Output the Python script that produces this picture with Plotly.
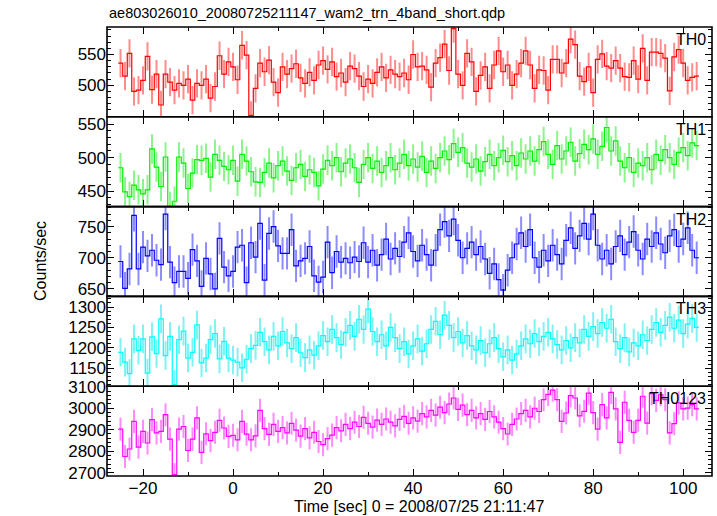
import plotly.graph_objects as go
from plotly.subplots import make_subplots

# ---- data (1-s bins, centre times in sec relative to 2008/07/25 21:11:47) ----
time_sec = list(range(-25, 104))

th0 = [536, 515, 552, 490, 492, 508, 547, 493, 518, 468, 518, 505, 492, 503, 500, 510,
       476, 503, 500, 510, 479, 498, 548, 518, 538, 530, 509, 565, 549, 451, 495, 536,
       522, 541, 505, 488, 530, 518, 527, 535, 512, 503, 521, 508, 533, 540, 526, 538,
       514, 520, 505, 531, 527, 515, 498, 510, 503, 521, 530, 512, 525, 518,
       514, 520, 509, 550, 530, 531, 525, 497, 536, 545, 567, 524, 592, 518, 500, 552,
       538, 490, 516, 530, 495, 533, 556, 522, 533, 500, 518, 536, 556, 533, 495, 525,
       524, 492, 542, 542, 520, 536, 575, 566, 515, 506, 530, 488, 542, 551, 531, 528,
       540, 528, 514, 513, 540, 510, 560, 508, 554, 554, 552, 544, 491, 546, 558, 536,
       508, 513, 515]

th1 = [485, 449, 442, 459, 452, 446, 452, 513, 486, 457, 501, 427, 435, 501, 492, 454,
       477, 497, 496, 499, 471, 505, 496, 487, 482, 496, 465, 505, 495, 479, 464, 463,
       478, 492, 470, 488, 495, 480, 466, 485, 490, 472, 482, 478, 458, 483, 496, 488,
       500, 479, 492, 498, 485, 463, 490, 500, 484, 495, 478, 488, 500, 482, 492, 505,
       488, 498, 486, 502, 478, 495, 484, 500, 510, 497, 521, 508, 515, 492, 486, 498,
       480, 494, 505, 488, 500, 511, 494, 503, 488, 507, 498, 510, 495, 512, 524, 505,
       490, 518, 498, 510, 523, 495, 506, 520, 512, 528, 505, 517, 545, 510, 525, 495,
       485, 500, 478, 492, 488, 500, 482, 505, 496, 512, 500, 490, 508, 515, 503, 522,
       518]

th2 = [694, 651, 682, 768, 682, 717, 703, 712, 696, 689, 770, 693, 660, 678, 678, 667,
       713, 695, 654, 699, 674, 650, 731, 685, 671, 678, 717, 720, 660, 724, 701, 755,
       664, 739, 750, 719, 707, 707, 745, 687, 695, 699, 718, 671, 661, 669, 725, 676,
       710, 693, 699, 692, 701, 694, 724, 693,
       712, 688, 705, 730, 698, 715, 702, 725, 740, 710, 695, 720, 705, 688, 712, 745,
       758, 735, 762, 728, 700, 715, 725, 705, 718, 698, 675, 690, 665, 648, 680, 700,
       722, 740, 718, 745, 700, 685, 712, 695, 720, 705, 690, 728, 748, 715, 735, 755,
       730, 770, 720, 698, 712, 690, 718, 735, 705, 725, 742, 712, 698, 730, 718, 740,
       722, 708, 735, 745, 718, 730, 748, 712, 700]

th3 = [1189, 1165, 1137, 1222, 1194, 1222, 1138, 1227, 1186, 1271, 1181, 1228, 1110, 1220,
       1241, 1175, 1189, 1256, 1163, 1175, 1220, 1235, 1173, 1216, 1175, 1170, 1165, 1151,
       1172, 1198, 1206, 1238,
       1215, 1195, 1228, 1205, 1240, 1212, 1198, 1225, 1188, 1176, 1195, 1182, 1205, 1230,
       1215, 1245, 1225, 1208, 1238, 1255, 1228, 1270, 1245, 1295, 1240, 1215, 1232, 1205,
       1250, 1225, 1198, 1215, 1185, 1205, 1222, 1192, 1210, 1245, 1265, 1232, 1280, 1255,
       1225, 1240, 1212, 1230, 1205, 1195, 1218, 1188, 1210, 1225, 1198, 1178, 1195, 1170,
       1185, 1205, 1222, 1210, 1235, 1215, 1228, 1238, 1222, 1208, 1195, 1218, 1200, 1225,
       1212, 1245, 1228, 1252, 1235, 1262, 1248, 1270, 1215, 1198, 1225, 1190, 1212, 1205,
       1232, 1218, 1245, 1262, 1238, 1255, 1275, 1248, 1268, 1235, 1258, 1272, 1250]

th0123 = [2903, 2775, 2810, 2939, 2819, 2892, 2838, 2947, 2885, 2892, 2970, 2856, 2691, 2903,
          2915, 2803, 2856, 2955, 2794, 2881, 2849, 2888, 2944, 2908, 2869, 2874, 2853, 2939,
          2879, 2853, 2871, 2990,
          2905, 2878, 2925, 2892, 2910, 2885, 2930, 2898, 2870, 2905, 2862, 2888, 2845, 2830,
          2858, 2875, 2910, 2895, 2925, 2905, 2935, 2915, 2958, 2930, 2912, 2945, 2925, 2950,
          2935, 2918, 2948, 2962, 2930, 2955, 2940, 2975, 2960, 2990, 2968, 3005, 2980, 3020,
          3048, 2995, 3015, 2970, 2990, 2955, 2975, 2948, 2985, 2960, 2935, 2905, 2880, 2925,
          2950, 2975, 2990, 2960, 3000, 2985, 3040, 3065,
          3085, 3040, 2939, 2978, 3059, 3048, 2965, 2986, 3071, 2980, 2903, 3017, 2955, 3074,
          2997, 2841, 3028, 2944, 2888, 2944, 3056, 2931, 3068, 3037, 3063, 3040, 2885, 2928,
          3025, 2997, 3001, 3017, 2997]

band_names = ["TH0", "TH1", "TH2", "TH3", "TH0123"]
band_errors = [23, 22, 26, 35, 54]          # typical 1-sigma error per bin
band_ticks = [[500, 550], [450, 500, 550], [650, 700, 750],
              [1150, 1200, 1250, 1300], [2700, 2800, 2900, 3000, 3100]]
band_ranges = [[448.8, 594.7], [427, 561], [638, 782], [1106, 1326], [2684, 3103]]
band_minor = [10, 10, 10, 10, 20]
band_colors = ["#ff0000", "#00ee00", "#0000ff", "#00ffff", "#ff00ff"]
band_err_colors = ["rgba(255,0,0,0.45)", "rgba(0,230,0,0.45)", "rgba(0,0,255,0.45)",
                   "rgba(0,230,230,0.5)", "rgba(255,0,255,0.45)"]
series = [th0, th1, th2, th3, th0123]

FONT = "Liberation Sans, Arial, Helvetica, sans-serif"

fig = make_subplots(rows=5, cols=1, shared_xaxes=True, vertical_spacing=0)

edges = [t - 0.5 for t in time_sec] + [time_sec[-1] + 0.5]
shapes = []
for i, vals in enumerate(series):
    r = i + 1
    fig.add_trace(go.Scatter(
        x=time_sec, y=vals, mode="markers",
        marker=dict(size=0.1, color="rgba(0,0,0,0)"),
        error_y=dict(type="constant", value=band_errors[i], color=band_err_colors[i],
                     thickness=2, width=0),
        showlegend=False, hoverinfo="skip"), row=r, col=1)
    fig.add_trace(go.Scatter(
        x=edges, y=list(vals) + [vals[-1]], mode="lines",
        line=dict(color=band_colors[i], width=1.2, shape="hv"),
        showlegend=False, hoverinfo="skip"), row=r, col=1)

    fig.update_yaxes(row=r, col=1, range=band_ranges[i], tickmode="array",
                     tickvals=band_ticks[i], ticks="inside", ticklen=7, tickwidth=1,
                     tickcolor="black", showline=False, mirror="ticks",
                     showgrid=False, zeroline=False,
                     minor=dict(tickmode="linear", tick0=0, dtick=band_minor[i],
                                ticks="inside", ticklen=4, tickcolor="black"),
                     tickfont=dict(family=FONT, size=17, color="black"))
    fig.update_xaxes(row=r, col=1, range=[-28, 106.4], tickmode="linear", tick0=0, dtick=20,
                     ticks="inside", ticklen=7, tickcolor="black", showline=False,
                     mirror="ticks", showgrid=False, zeroline=False,
                     minor=dict(tickmode="linear", tick0=0, dtick=10, ticks="inside",
                                ticklen=4, tickcolor="black"),
                     tickfont=dict(family=FONT, size=17, color="black"),
                     showticklabels=(r == 5))

annotations = []
for i, name in enumerate(band_names):
    yax = fig.layout["yaxis" + ("" if i == 0 else str(i + 1))]
    d0, d1 = yax.domain
    shapes.append(dict(type="rect", xref="paper", yref="paper", x0=0, x1=1, y0=d0, y1=d1,
                       line=dict(color="black", width=1.6), layer="above"))
    annotations.append(dict(text=name, x=1, y=d1, xref="paper", yref="paper",
                            xanchor="right", yanchor="top", xshift=-4, yshift=-2,
                            showarrow=False, font=dict(family=FONT, size=16, color="black")))
annotations.append(dict(text="Counts/sec", x=-0.11, y=0.48, xref="paper", yref="paper",
                        textangle=-90, showarrow=False, xanchor="center", yanchor="middle",
                        font=dict(family=FONT, size=16, color="black")))
annotations.append(dict(text="ae803026010_20080725211147_wam2_trn_4band_short.qdp",
                        x=0, y=1.0, xref="paper", yref="paper", xanchor="left",
                        yanchor="bottom", yshift=4, showarrow=False,
                        font=dict(family=FONT, size=14.5, color="black")))
annotations.append(dict(text="Time [sec] 0 = 2008/07/25 21:11:47",
                        x=0.515, y=0, xref="paper", yref="paper", xanchor="center",
                        yanchor="top", yshift=-20, showarrow=False,
                        font=dict(family=FONT, size=16, color="black")))

fig.update_layout(width=717, height=516, margin=dict(l=107, r=5, t=27, b=40),
                  plot_bgcolor="white", paper_bgcolor="white",
                  annotations=annotations, shapes=shapes, font=dict(family=FONT))

fig.write_html("out.html", config={"displayModeBar": False},
               post_script="document.body.style.margin='0';")
